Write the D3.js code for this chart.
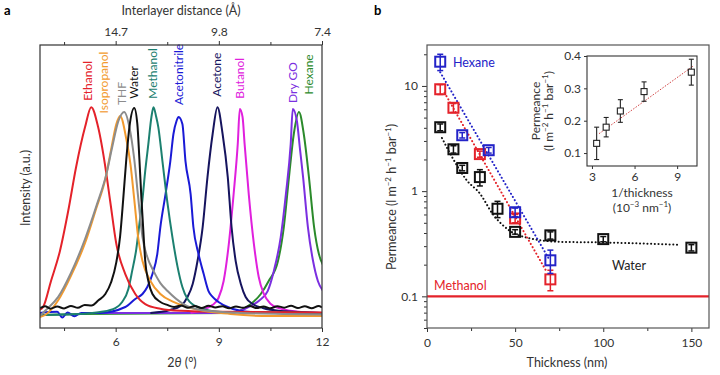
<!DOCTYPE html>
<html>
<head>
<meta charset="utf-8">
<script src="https://cdn.jsdelivr.net/npm/d3@7"></script>
<style>
body { margin: 0; background: #fff; }
svg { font-family: Lato, 'Open Sans', sans-serif; }
.axis path.domain { display: none; }
.axis line { stroke: #333; }
.axis text { font-size: 12px; fill: #333; font-family: Lato, 'Open Sans', sans-serif; }
</style>
</head>
<body>
<script>
// ---- panel a : XRD peaks, [2theta, intensity]
var solvents = ['Ethanol','Isopropanol','THF','Water','Methanol','Acetonitrile','Acetone','Butanol','Dry GO','Hexane'];
var labelTheta = [5.20, 5.67, 6.19, 6.54, 7.10, 7.83, 8.96, 9.61, 11.15, 11.62];
var labelLevel = [1.02, 0.96, 1.0, 1.03, 1.03, 1.0, 1.04, 1.03, 1.01, 1.05];

var ethanol = [[3.80,0.025],[3.89,0.038],[4.12,0.162],[4.38,0.305],[4.62,0.495],[4.85,0.705],[5.11,0.895],[5.29,0.99],[5.49,0.895],[5.70,0.705],[5.84,0.543],[6.02,0.338],[6.28,0.195],[6.57,0.10],[6.86,0.052],[7.30,0.03],[7.89,0.02],[9.0,0.015],[12.0,0.012]];
var isopropanol = [[3.80,-0.01],[3.95,0.0],[4.33,0.07],[4.70,0.186],[5.11,0.343],[5.43,0.505],[5.70,0.648],[5.87,0.79],[6.02,0.91],[6.13,0.948],[6.31,0.838],[6.43,0.719],[6.54,0.552],[6.66,0.362],[6.78,0.257],[7.01,0.162],[7.30,0.10],[7.68,0.062],[8.18,0.033],[9.34,0.005],[10.5,-0.005],[12.0,-0.005]];
var thf = [[3.80,-0.005],[3.95,0.02],[4.33,0.086],[4.70,0.20],[5.11,0.362],[5.46,0.529],[5.73,0.671],[5.90,0.80],[6.08,0.924],[6.25,0.967],[6.40,0.895],[6.54,0.743],[6.66,0.552],[6.78,0.371],[6.92,0.276],[7.10,0.21],[7.30,0.152],[7.51,0.114],[7.97,0.052],[8.47,0.024],[9.64,0.01],[12.0,0.002]];
var water = [[3.80,0.032],[3.95,0.042],[4.10,0.03],[4.30,0.04],[4.50,0.031],[4.70,0.043],[4.90,0.034],[5.10,0.047],[5.30,0.045],[5.50,0.07],[5.70,0.10],[5.87,0.157],[6.02,0.252],[6.13,0.376],[6.22,0.552],[6.31,0.743],[6.40,0.895],[6.54,0.986],[6.63,0.91],[6.69,0.743],[6.75,0.552],[6.81,0.386],[6.86,0.257],[6.95,0.162],[7.07,0.10],[7.30,0.062],[7.50,0.048],[7.70,0.038],[7.90,0.045],[8.10,0.034],[8.30,0.043],[8.50,0.033],[8.70,0.044],[8.90,0.036],[9.10,0.042],[9.30,0.032],[9.50,0.041],[9.70,0.034],[9.90,0.043],[10.1,0.033],[10.3,0.041],[10.5,0.032],[10.7,0.042],[10.9,0.035],[11.1,0.044],[11.3,0.033],[11.5,0.042],[11.7,0.032],[11.9,0.043],[12.0,0.036]];
var methanol = [[3.80,0.0],[5.00,0.005],[5.55,0.014],[5.99,0.033],[6.19,0.062],[6.37,0.124],[6.48,0.21],[6.60,0.314],[6.69,0.433],[6.78,0.552],[6.86,0.686],[6.95,0.814],[7.04,0.943],[7.10,0.99],[7.18,0.943],[7.24,0.895],[7.36,0.733],[7.51,0.529],[7.65,0.371],[7.80,0.229],[7.94,0.133],[8.09,0.076],[8.38,0.038],[9.05,0.014],[12.0,0.01]];
var acetonitrile = [[3.80,0.01],[4.30,0.015],[4.45,-0.012],[4.60,0.012],[4.80,-0.006],[5.00,0.01],[5.55,0.01],[6.28,0.038],[6.57,0.076],[6.78,0.10],[6.92,0.133],[7.07,0.195],[7.21,0.29],[7.30,0.419],[7.45,0.576],[7.59,0.733],[7.68,0.862],[7.77,0.924],[7.83,0.943],[7.94,0.91],[8.03,0.733],[8.18,0.576],[8.26,0.419],[8.41,0.29],[8.56,0.195],[8.70,0.114],[8.82,0.086],[8.99,0.062],[9.26,0.038],[9.93,0.014],[12.0,0.005]];
var acetone = [[7.01,0.01],[7.59,0.024],[7.89,0.043],[8.09,0.086],[8.24,0.148],[8.38,0.257],[8.53,0.419],[8.67,0.657],[8.82,0.862],[8.96,0.99],[9.11,0.862],[9.26,0.657],[9.37,0.419],[9.49,0.257],[9.64,0.148],[9.78,0.086],[9.99,0.052],[10.28,0.033],[10.80,0.019],[12.0,0.01]];
var butanol = [[8.18,0.01],[8.82,0.048],[8.99,0.081],[9.14,0.162],[9.29,0.338],[9.43,0.576],[9.55,0.814],[9.61,0.981],[9.69,0.943],[9.75,0.814],[9.87,0.576],[10.02,0.338],[10.16,0.181],[10.31,0.10],[10.51,0.052],[10.74,0.033],[11.39,0.014],[12.0,0.01]];
var dryGO = [[5.00,0.01],[9.35,0.01],[9.93,0.043],[10.16,0.067],[10.42,0.114],[10.60,0.21],[10.80,0.371],[10.95,0.576],[11.09,0.814],[11.15,0.981],[11.27,0.924],[11.36,0.79],[11.45,0.657],[11.59,0.419],[11.74,0.257],[11.88,0.162],[12.03,0.114]];
var hexane = [[3.80,0.0],[5.00,0.005],[9.35,0.01],[9.93,0.052],[10.22,0.10],[10.45,0.162],[10.72,0.257],[10.89,0.419],[11.04,0.657],[11.18,0.862],[11.33,0.967],[11.47,0.862],[11.62,0.657],[11.77,0.419],[11.91,0.29],[12.06,0.229]];

var thetaTicks = [6, 9, 12];
var thetaMinor = [4.5, 7.5, 10.5];
var dLabels = ['14.7', '9.8', '7.4'];

// ---- panel b : permeance vs thickness
var hexThick = [7.5, 20, 35, 50, 70];
var hexPerm = [17, 3.4, 2.45, 0.63, 0.22];
var hexErr = [3, 0.2, 0.15, 0.06, 0.055];
var metThick = [7.5, 15, 30, 50, 70];
var metPerm = [9.3, 6.2, 2.25, 0.55, 0.145];
var metErr = [1.0, 0.6, 0.15, 0.05, 0.032];
var watThick = [7.5, 15, 20, 30, 40, 50, 70, 100, 150];
var watPerm = [4.05, 2.5, 1.66, 1.36, 0.68, 0.41, 0.38, 0.35, 0.29];
var watErr = [0.3, 0.2, 0.1, 0.24, 0.12, 0.02, 0.03, 0.02, 0.02];

var hexFit = [[7.5, 13.5], [69, 0.23]];
var metFit = [[10, 8.6], [68, 0.17]];
var watFit = [[8.5, 3.2], [15, 2.0], [22.5, 1.27], [30, 0.95], [37.5, 0.6], [47, 0.42], [57, 0.36], [75, 0.33], [100, 0.325], [142, 0.31]];
var methanolLevel = 0.1;

var thickTicks = [0, 50, 100, 150];
var thickMinor = [25, 75, 125];
var permTicks = [0.1, 1, 10];

// inset
var invThick = [3.33, 4.0, 5.0, 6.67, 10.0];
var insetPerm = [0.13, 0.18, 0.23, 0.29, 0.35];
var insetErr = [0.05, 0.03, 0.035, 0.03, 0.04];
var insetFit = [[3.5, 0.16], [10.1, 0.368]];
var insetYTicks = [0.1, 0.2, 0.3, 0.4];
var insetXTicks = [3, 6, 9];

var svg = d3.select('body').append('svg')
    .attr('width', 720)
    .attr('height', 375);

// ================= panel a =================
var ax = d3.scaleLinear().domain([3.8, 12]).range([40, 322]);
var ay = d3.scaleLinear().domain([-0.062, 1.286]).range([328, 45]);

svg.append('text').attr('x', 4).attr('y', 15)
    .style('font-weight', 'bold').style('font-size', '13px').text('a');

svg.append('clipPath').attr('id', 'clipA')
    .append('rect').attr('x', 40).attr('y', 45).attr('width', 282).attr('height', 283);

var spectra = [hexane, dryGO, butanol, acetone, acetonitrile, methanol, ethanol, isopropanol, thf, water];
var spectraColors = ['#2b8a2b', '#7b2fe0', '#e020dd', '#16145e', '#1a1ad6', '#1c8070', '#e4222a', '#f29a2e', '#8c8c8c', '#111111'];
var labelColors = ['#e4222a', '#f29a2e', '#8c8c8c', '#111111', '#1c8070', '#1a1ad6', '#16145e', '#e020dd', '#7b2fe0', '#2b8a2b'];

var line = d3.line()
    .x(function(d) { return ax(d[0]); })
    .y(function(d) { return ay(d[1]); })
    .curve(d3.curveMonotoneX);

var specGroup = svg.append('g').attr('clip-path', 'url(#clipA)');
spectra.forEach(function(s, i) {
    specGroup.append('path')
        .attr('d', line(s))
        .attr('fill', 'none')
        .attr('stroke', spectraColors[i])
        .attr('stroke-width', 2)
        .attr('stroke-linejoin', 'round');
});

solvents.forEach(function(name, i) {
    svg.append('text')
        .attr('transform', 'translate(' + (ax(labelTheta[i]) + 4) + ',' + ay(labelLevel[i]) + ') rotate(-90)')
        .attr('fill', labelColors[i])
        .style('font-size', '12px')
        .text(name);
});

svg.append('rect').attr('x', 40).attr('y', 45).attr('width', 282).attr('height', 283)
    .attr('fill', 'none').attr('stroke', '#333').attr('stroke-width', 1.2);

svg.append('g').attr('class', 'axis')
    .attr('transform', 'translate(0,328)')
    .call(d3.axisBottom(ax).tickValues(thetaTicks).tickSize(4).tickPadding(5).tickFormat(d3.format('d')));
svg.append('g').attr('class', 'axis')
    .attr('transform', 'translate(0,328)')
    .call(d3.axisBottom(ax).tickValues(thetaMinor).tickSize(3).tickFormat(''));
svg.append('g').attr('class', 'axis')
    .attr('transform', 'translate(0,45)')
    .call(d3.axisTop(ax).tickValues(thetaTicks).tickSize(4).tickPadding(5)
        .tickFormat(function(d, i) { return dLabels[i]; }));
svg.append('g').attr('class', 'axis')
    .attr('transform', 'translate(0,45)')
    .call(d3.axisTop(ax).tickValues(thetaMinor).tickSize(3).tickFormat(''));

svg.append('text').attr('x', 181).attr('y', 15).attr('text-anchor', 'middle')
    .style('font-size', '12.5px').attr('fill', '#333').text('Interlayer distance (Å)');
var xt = svg.append('text').attr('x', 182).attr('y', 367).attr('text-anchor', 'middle')
    .style('font-size', '12.5px').attr('fill', '#333');
xt.append('tspan').text('2');
xt.append('tspan').style('font-style', 'italic').text('θ');
xt.append('tspan').text(' (°)');
svg.append('text').attr('transform', 'translate(30,188) rotate(-90)').attr('text-anchor', 'middle')
    .style('font-size', '12.5px').attr('fill', '#333').text('Intensity (a.u.)');

// ================= panel b =================
var bx = d3.scaleLinear().domain([0, 160]).range([427, 709]);
var by = d3.scaleLog().domain([0.05, 24.5]).range([328, 45]);

svg.append('text').attr('x', 374).attr('y', 15)
    .style('font-weight', 'bold').style('font-size', '13px').text('b');

svg.append('g').attr('class', 'axis')
    .attr('transform', 'translate(427,0)')
    .call(d3.axisLeft(by).tickValues(permTicks).tickSize(5).tickPadding(4)
        .tickFormat(function(d) { return d >= 1 ? d3.format('d')(d) : d; }));
var minorPerm = by.ticks().filter(function(d) { return permTicks.indexOf(d) < 0; });
svg.append('g').attr('class', 'axis')
    .attr('transform', 'translate(427,0)')
    .call(d3.axisLeft(by).tickValues(minorPerm).tickSize(3).tickFormat(''));
svg.append('g').attr('class', 'axis')
    .attr('transform', 'translate(0,328)')
    .call(d3.axisBottom(bx).tickValues(thickTicks).tickSize(4).tickPadding(6));
svg.append('g').attr('class', 'axis')
    .attr('transform', 'translate(0,328)')
    .call(d3.axisBottom(bx).tickValues(thickMinor).tickSize(3).tickFormat(''));

// methanol level
svg.append('line')
    .attr('x1', bx(0)).attr('x2', bx(160))
    .attr('y1', by(methanolLevel)).attr('y2', by(methanolLevel))
    .attr('stroke', '#e4222a').attr('stroke-width', 2.2);

var fitLine = d3.line()
    .x(function(d) { return bx(d[0]); })
    .y(function(d) { return by(d[1]); })
    .curve(d3.curveMonotoneX);

function drawFit(data, color) {
    svg.append('path').attr('d', fitLine(data))
        .attr('fill', 'none').attr('stroke', color)
        .attr('stroke-width', 2).attr('stroke-dasharray', '0.1 3.6')
        .attr('stroke-linecap', 'round');
}
drawFit(watFit, '#111');
drawFit(metFit, '#e4222a');
drawFit(hexFit, '#2323c8');

function drawSeries(xs, ys, es, color) {
    xs.forEach(function(t, i) {
        var cx = bx(t), cy = by(ys[i]);
        var y1 = by(ys[i] + es[i]), y2 = by(ys[i] - es[i]);
        svg.append('line').attr('x1', cx).attr('x2', cx).attr('y1', y1).attr('y2', y2)
            .attr('stroke', color).attr('stroke-width', 1.5);
        svg.append('line').attr('x1', cx - 3).attr('x2', cx + 3).attr('y1', y1).attr('y2', y1)
            .attr('stroke', color).attr('stroke-width', 1.5);
        svg.append('line').attr('x1', cx - 3).attr('x2', cx + 3).attr('y1', y2).attr('y2', y2)
            .attr('stroke', color).attr('stroke-width', 1.5);
        svg.append('rect').attr('x', cx - 5).attr('y', cy - 5).attr('width', 10).attr('height', 10)
            .attr('fill', 'none').attr('stroke', color).attr('stroke-width', 2);
    });
}
drawSeries(watThick, watPerm, watErr, '#111');
drawSeries(metThick, metPerm, metErr, '#e4222a');
drawSeries(hexThick, hexPerm, hexErr, '#2323c8');

svg.append('text').attr('x', 453).attr('y', 67).attr('fill', '#2323c8')
    .style('font-size', '12.5px').text('Hexane');
svg.append('text').attr('x', 434).attr('y', 290).attr('fill', '#e4222a')
    .style('font-size', '12.5px').text('Methanol');
svg.append('text').attr('x', 612).attr('y', 270).attr('fill', '#222')
    .style('font-size', '12.5px').text('Water');

svg.append('rect').attr('x', 427).attr('y', 45).attr('width', 282).attr('height', 283)
    .attr('fill', 'none').attr('stroke', '#555').attr('stroke-width', 1.2);

svg.append('text').attr('x', 567).attr('y', 367).attr('text-anchor', 'middle')
    .style('font-size', '12.5px').attr('fill', '#333').text('Thickness (nm)');

function richText(sel, parts) {
    parts.forEach(function(p) {
        var t = sel.append('tspan').text(p[0]);
        if (p[1]) t.attr('baseline-shift', 'super').style('font-size', '8px');
    });
}
var permLabel = svg.append('text').attr('transform', 'translate(396,197) rotate(-90)')
    .attr('text-anchor', 'middle').style('font-size', '12.5px').attr('fill', '#333');
richText(permLabel, [['Permeance (l m', 0], ['\u22122', 1], [' h', 0], ['\u22121', 1], [' bar', 0], ['\u22121', 1], [')', 0]]);

// ---- inset
var ix = d3.scaleLinear().domain([2.65, 10.4]).range([587, 697]);
var iy = d3.scaleLinear().domain([0.06, 0.4]).range([166, 56]);

svg.append('rect').attr('x', 587).attr('y', 56).attr('width', 110).attr('height', 110)
    .attr('fill', '#fff').attr('stroke', '#333').attr('stroke-width', 1.1);

svg.append('g').attr('class', 'axis')
    .attr('transform', 'translate(587,0)')
    .call(d3.axisLeft(iy).tickValues(insetYTicks).tickSize(3).tickPadding(3).tickFormat(d3.format('.1f')));
svg.append('g').attr('class', 'axis')
    .attr('transform', 'translate(0,166)')
    .call(d3.axisBottom(ix).tickValues(insetXTicks).tickSize(3).tickPadding(3));

svg.append('path')
    .attr('d', d3.line().x(function(d) { return ix(d[0]); }).y(function(d) { return iy(d[1]); })(insetFit))
    .attr('stroke', '#d04040').attr('stroke-width', 1).attr('stroke-dasharray', '1.5 1.5').attr('fill', 'none');

invThick.forEach(function(t, i) {
    var cx = ix(t), cy = iy(insetPerm[i]);
    var y1 = iy(insetPerm[i] + insetErr[i]), y2 = iy(insetPerm[i] - insetErr[i]);
    svg.append('line').attr('x1', cx).attr('x2', cx).attr('y1', y1).attr('y2', y2).attr('stroke', '#222').attr('stroke-width', 1.1);
    svg.append('line').attr('x1', cx - 2.5).attr('x2', cx + 2.5).attr('y1', y1).attr('y2', y1).attr('stroke', '#222').attr('stroke-width', 1.1);
    svg.append('line').attr('x1', cx - 2.5).attr('x2', cx + 2.5).attr('y1', y2).attr('y2', y2).attr('stroke', '#222').attr('stroke-width', 1.1);
    svg.append('rect').attr('x', cx - 3).attr('y', cy - 3).attr('width', 6).attr('height', 6)
        .attr('fill', '#fff').attr('stroke', '#222').attr('stroke-width', 1.1);
});

svg.append('text').attr('transform', 'translate(540,111) rotate(-90)').attr('text-anchor', 'middle')
    .style('font-size', '12px').attr('fill', '#333').text('Permeance');
var insetY2 = svg.append('text').attr('transform', 'translate(553,111) rotate(-90)').attr('text-anchor', 'middle')
    .style('font-size', '12px').attr('fill', '#333');
richText(insetY2, [['(l m', 0], ['\u22122', 1], [' h', 0], ['\u22121', 1], [' bar', 0], ['\u22121', 1], [')', 0]]);
svg.append('text').attr('x', 642).attr('y', 197).attr('text-anchor', 'middle')
    .style('font-size', '12px').attr('fill', '#333').text('1/thickness');
var insetX2 = svg.append('text').attr('x', 642).attr('y', 212).attr('text-anchor', 'middle')
    .style('font-size', '12px').attr('fill', '#333');
richText(insetX2, [['(10', 0], ['\u22123', 1], [' nm', 0], ['\u22121', 1], [')', 0]]);
</script>
</body>
</html>
